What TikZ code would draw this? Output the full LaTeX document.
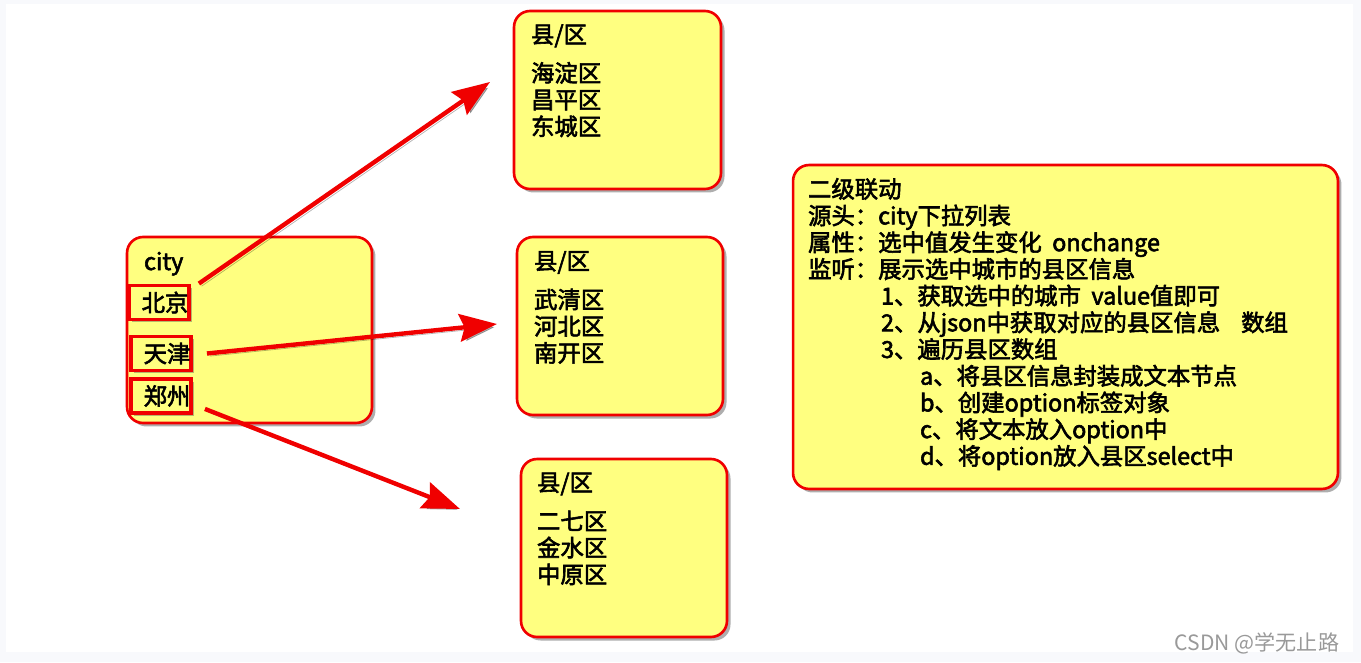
\documentclass[tikz,border=0pt]{standalone}
\usepackage{fontspec}
\setmainfont{Noto Sans CJK SC}[FakeBold=2.5]
\newfontfamily\markfont{Noto Sans CJK SC}
\usetikzlibrary{arrows.meta,shadows,positioning}
\definecolor{notefill}{RGB}{255,255,128}
\definecolor{noteline}{RGB}{240,0,0}
\definecolor{pagegray}{RGB}{248,249,252}
\tikzset{
  notebox/.style={draw=noteline, line width=1.5pt, fill=notefill, rounded corners=0.32cm,
    inner sep=0pt, drop shadow={shadow xshift=2pt, shadow yshift=-2pt, opacity=.45, fill=black!70}},
  citybox/.style={draw=noteline, line width=2.2pt, fill=notefill, inner sep=0pt,
    minimum width=1.2cm, minimum height=0.68cm, font=\fontsize{13.3pt}{15pt}\selectfont,
    drop shadow={shadow xshift=1.5pt, shadow yshift=-1.5pt, opacity=.4, fill=black!70}},
  notetext/.style={anchor=north west, align=left, inner sep=0pt, font=\fontsize{13.3pt}{15.2pt}\selectfont},
  linkarrow/.style={-{Stealth[length=0.75cm,width=0.55cm,inset=0.1cm]}, draw=noteline, line width=2.5pt,
    preaction={draw=black, opacity=.3, transform canvas={shift={(1.5pt,-1.5pt)}}}}
}
\begin{document}
\begin{tikzpicture}[x=0.02cm, y=-0.02cm]
% page
\fill[pagegray] (0,0) rectangle (1361,662);
\fill[white] (6,4) rectangle (1353,652);
\useasboundingbox (0,0) rectangle (1361,662);

% city list
\node[notebox, minimum width=4.9cm, minimum height=3.72cm] (citybox) at (249.5,330) {};
\node[notetext, anchor=west] (citylabel) at ([xshift=0.36cm,yshift=-0.56cm]citybox.north west) {city};
\node[citybox] (bj) at (159,302.5) {\hspace{0.24cm}北京};
\node[citybox] (tj) at (161,353.5) {\hspace{0.24cm}天津};
\node[citybox] (zz) at (161,396) {\hspace{0.24cm}郑州};

% district boxes
\node[notebox, minimum width=4.14cm, minimum height=3.56cm] (bjarea) at (617.5,100) {};
\node[notetext] (bjtext) at ([xshift=0.36cm,yshift=-0.29cm]bjarea.north west)
  {县/区\\[0.24cm]海淀区\\昌平区\\东城区};
\node[notebox, minimum width=4.12cm, minimum height=3.56cm] (tjarea) at (620,326) {};
\node[notetext] (tjtext) at ([xshift=0.36cm,yshift=-0.3cm]tjarea.north west)
  {县/区\\[0.24cm]武清区\\河北区\\南开区};
\node[notebox, minimum width=4.12cm, minimum height=3.56cm] (zzarea) at (624,548) {};
\node[notetext] (zztext) at ([xshift=0.34cm,yshift=-0.29cm]zzarea.north west)
  {县/区\\[0.24cm]二七区\\金水区\\中原区};

% notes
\node[notebox, minimum width=10.9cm, minimum height=6.48cm] (notes) at (1065.5,327) {};
\node[notetext] (notestext) at ([xshift=0.32cm,yshift=-0.28cm]notes.north west)
  {二级联动\\
   源头：city下拉列表\\
   属性：选中值发生变化\ \ onchange\\
   监听：展示选中城市的县区信息\\
   \hspace*{1.46cm}1、获取选中的城市\ \ value值即可\\
   \hspace*{1.46cm}2、从json中获取对应的县区信息\ \ \ \ 数组\\
   \hspace*{1.46cm}3、遍历县区数组\\
   \hspace*{2.24cm}a、将县区信息封装成文本节点\\
   \hspace*{2.24cm}b、创建option标签对象\\
   \hspace*{2.24cm}c、将文本放入option中\\
   \hspace*{2.24cm}d、将option放入县区select中};

% links
\coordinate (bjtip) at (490,82);
\coordinate (tjtip) at (497,324);
\coordinate (zztip) at (460,509);
\draw[linkarrow] ([xshift=0.16cm]bj.north east) -- (bjtip);
\draw[linkarrow] ([xshift=0.28cm]tj.east) -- (tjtip);
\draw[linkarrow] ([xshift=0.24cm,yshift=0.12cm]zz.south east) -- (zztip);

\node[text=black!40, font=\markfont\fontsize{12pt}{14pt}\selectfont] (mark) at (1257,643) {CSDN @学无止路};
\end{tikzpicture}
\end{document}
